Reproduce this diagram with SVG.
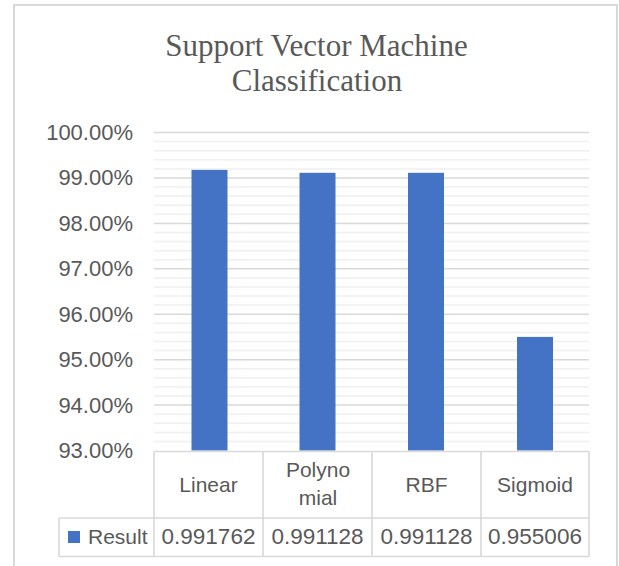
<svg xmlns="http://www.w3.org/2000/svg" width="619" height="566" viewBox="0 0 619 566">
  <style>
    .txt { font-family: "Liberation Sans", Arial, sans-serif; fill: #595959; }
    .ax { font-size: 22px; text-anchor: end; }
    .hd { font-size: 21px; text-anchor: middle; }
    .num { font-size: 22.5px; text-anchor: middle; }
    .title { font-family: "Liberation Serif", "Times New Roman", serif; font-size: 31px; fill: #595959; text-anchor: middle; }
    .major { stroke: #d9d9d9; stroke-width: 1.5; fill: none; }
    .minor { stroke: #f0f0f0; stroke-width: 1.5; fill: none; }
    .bar { fill: #4472c4; }
    .cell { stroke: #d9d9d9; stroke-width: 1.6; fill: none; }
  </style>

  <!-- page and chart frame -->
  <rect x="0" y="0" width="619" height="566" fill="#ffffff"/>
  <rect id="chart-frame" x="14" y="5" width="603" height="600" fill="#ffffff" stroke="#d9d9d9" stroke-width="2"/>

  <!-- chart title -->
  <g id="title">
    <text class="title" x="316.5" y="56">Support Vector Machine</text>
    <text class="title" x="317" y="91">Classification</text>
  </g>

  <!-- gridlines: minor every 0.2%, major every 1% -->
  <g id="gridlines">
    <path class="minor" d="M154 141.6H589M154 150.7H589M154 159.8H589M154 168.9H589
      M154 187.0H589M154 196.1H589M154 205.2H589M154 214.3H589
      M154 232.5H589M154 241.6H589M154 250.7H589M154 259.7H589
      M154 277.9H589M154 287.0H589M154 296.1H589M154 305.1H589
      M154 323.3H589M154 332.4H589M154 341.5H589M154 350.6H589
      M154 368.8H589M154 377.8H589M154 386.9H589M154 396.0H589
      M154 414.2H589M154 423.3H589M154 432.4H589M154 441.4H589"/>
    <path class="major" d="M154 132.5H589M154 177.9H589M154 223.4H589M154 268.8H589
      M154 314.2H589M154 359.7H589M154 405.1H589"/>
  </g>

  <!-- value axis labels -->
  <g id="value-axis" class="txt ax">
    <text x="133" y="140">100.00%</text>
    <text x="133" y="185.4">99.00%</text>
    <text x="133" y="230.9">98.00%</text>
    <text x="133" y="276.3">97.00%</text>
    <text x="133" y="321.7">96.00%</text>
    <text x="133" y="367.2">95.00%</text>
    <text x="133" y="412.6">94.00%</text>
    <text x="133" y="458">93.00%</text>
  </g>

  <!-- data bars -->
  <g id="series-result">
    <rect id="bar-linear" class="bar" x="191.5" y="169.9" width="36" height="280.6"/>
    <rect id="bar-polynomial" class="bar" x="299.5" y="172.8" width="36" height="277.7"/>
    <rect id="bar-rbf" class="bar" x="408" y="172.8" width="36" height="277.7"/>
    <rect id="bar-sigmoid" class="bar" x="517" y="336.9" width="36" height="113.6"/>
  </g>

  <!-- data table under the plot -->
  <g id="data-table">
    <path class="cell" d="M154 451.5H589M59 518H589M59 556.5H589
      M154 451.5V556.5M263 451.5V556.5M372 451.5V556.5M481 451.5V556.5M589 451.5V556.5
      M59 518V556.5"/>
    <g class="txt hd">
      <text x="208.5" y="491.5">Linear</text>
      <text x="318" y="476.5">Polyno</text>
      <text x="318" y="505">mial</text>
      <text x="426.5" y="491.5">RBF</text>
      <text x="535" y="491.5">Sigmoid</text>
    </g>
    <rect id="legend-key" class="bar" x="68" y="531" width="12" height="12"/>
    <text class="txt" x="88" y="544" font-size="21">Result</text>
    <g class="txt num">
      <text x="208.5" y="544">0.991762</text>
      <text x="317.5" y="544">0.991128</text>
      <text x="426.5" y="544">0.991128</text>
      <text x="535" y="544">0.955006</text>
    </g>
  </g>
</svg>
